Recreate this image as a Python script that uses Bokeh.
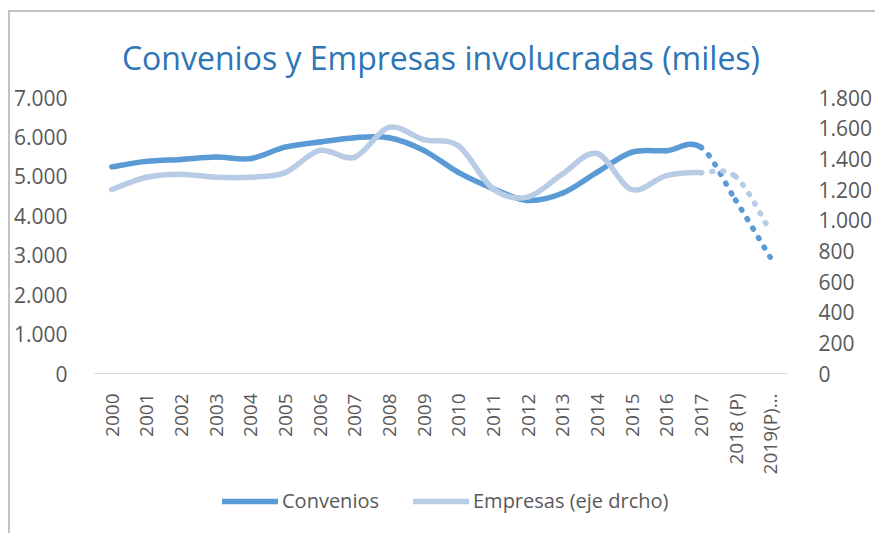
import math
from bokeh.plotting import figure
from bokeh.layouts import column
from bokeh.models import (Range1d, LinearAxis, FixedTicker, Legend, LegendItem,
                          ColumnDataSource)
from bokeh.embed import file_html
from bokeh.resources import INLINE

# ---------------- data ----------------
years = ["2000", "2001", "2002", "2003", "2004", "2005", "2006", "2007", "2008",
         "2009", "2010", "2011", "2012", "2013", "2014", "2015", "2016", "2017",
         "2018 (P)", "2019(P)…"]
convenios = [5240, 5380, 5430, 5490, 5450, 5740, 5870, 5980, 5980, 5660,
             5100, 4690, 4390, 4570, 5100, 5610, 5650, 5740, 4400, 2950]
empresas = [1200, 1280, 1300, 1280, 1280, 1310, 1455, 1410, 1605, 1525,
            1485, 1205, 1150, 1300, 1435, 1200, 1290, 1310, 1285, 930]
n_solid = 18  # points 2000..2017 solid, then projected (dotted)

left_ticks = [0, 1000, 2000, 3000, 4000, 5000, 6000, 7000]
left_labels = ["0", "1.000", "2.000", "3.000", "4.000", "5.000", "6.000", "7.000"]
right_ticks = [0, 200, 400, 600, 800, 1000, 1200, 1400, 1600, 1800]
right_labels = ["0", "200", "400", "600", "800", "1.000", "1.200", "1.400", "1.600", "1.800"]
series_names = ["Convenios", "Empresas (eje drcho)"]

title = "Convenios y Empresas involucradas (miles)"
FONT = "Open Sans"
GREY = "#595959"
C_CONV = "#5B9BD5"
C_EMP = "#B8CCE6"


def bezier_source(vals, seg_from, seg_to):
    """Smooth (Catmull-Rom) Bezier segments through the data points."""
    nv = len(vals)
    d = dict(x0=[], y0=[], x1=[], y1=[], cx0=[], cy0=[], cx1=[], cy1=[])
    for i in range(seg_from, seg_to):
        ip = max(i - 1, 0)
        inx = min(i + 2, nv - 1)
        d["x0"].append(i); d["y0"].append(vals[i])
        d["x1"].append(i + 1); d["y1"].append(vals[i + 1])
        d["cx0"].append(i + (i + 1 - ip) / 6.0)
        d["cy0"].append(vals[i] + (vals[i + 1] - vals[ip]) / 6.0)
        d["cx1"].append(i + 1 - (inx - i) / 6.0)
        d["cy1"].append(vals[i + 1] - (vals[inx] - vals[i]) / 6.0)
    return ColumnDataSource(d)


p = figure(width=865, height=466, output_backend="svg", toolbar_location=None,
           x_range=Range1d(-0.5, len(years) - 0.5), y_range=Range1d(0, 7000),
           min_border_left=84, min_border_right=78, min_border_top=85,
           min_border_bottom=105)
p.extra_y_ranges = {"emp": Range1d(0, 1800)}
p.outline_line_color = None
p.grid.visible = False
p.background_fill_color = "white"
p.border_fill_color = "white"

p.title.text = title
p.title.align = "center"
p.title.text_font = FONT
p.title.text_font_size = "32px"
p.title.text_font_style = "normal"
p.title.text_color = "#2E75B6"
p.title.standoff = 38

# x axis
xa = p.xaxis[0]
xa.ticker = FixedTicker(ticks=list(range(len(years))))
xa.major_label_overrides = {i: y for i, y in enumerate(years)}
xa.major_label_orientation = math.pi / 2
xa.major_label_standoff = 14
xa.major_label_text_font = FONT
xa.major_label_text_font_size = "19px"
xa.major_label_text_color = GREY
xa.axis_line_color = "#D9D9D9"
xa.axis_line_width = 1.2
xa.major_tick_line_color = None
xa.minor_tick_line_color = None

# left axis
ya = p.yaxis[0]
ya.ticker = FixedTicker(ticks=left_ticks)
ya.major_label_overrides = {t: l for t, l in zip(left_ticks, left_labels)}

# right axis
yr = LinearAxis(y_range_name="emp", ticker=FixedTicker(ticks=right_ticks))
yr.major_label_overrides = {t: l for t, l in zip(right_ticks, right_labels)}
p.add_layout(yr, "right")

for ax, st in ((ya, 21), (yr, 25)):
    ax.axis_line_color = None
    ax.major_tick_line_color = None
    ax.minor_tick_line_color = None
    ax.major_label_text_font = FONT
    ax.major_label_text_font_size = "21px"
    ax.major_label_text_color = GREY
    ax.major_label_standoff = st

LW = 5.5
nseg = len(years) - 1
# Convenios
p.bezier(x0="x0", y0="y0", x1="x1", y1="y1", cx0="cx0", cy0="cy0", cx1="cx1", cy1="cy1",
         source=bezier_source(convenios, 0, n_solid - 1),
         line_color=C_CONV, line_width=LW, line_cap="round")
p.bezier(x0="x0", y0="y0", x1="x1", y1="y1", cx0="cx0", cy0="cy0", cx1="cx1", cy1="cy1",
         source=bezier_source(convenios, n_solid - 1, nseg),
         line_color=C_CONV, line_width=LW, line_cap="round", line_dash="1 10")
# Empresas (right axis)
p.bezier(x0="x0", y0="y0", x1="x1", y1="y1", cx0="cx0", cy0="cy0", cx1="cx1", cy1="cy1",
         source=bezier_source(empresas, 0, n_solid - 1), y_range_name="emp",
         line_color=C_EMP, line_width=LW, line_cap="round")
p.bezier(x0="x0", y0="y0", x1="x1", y1="y1", cx0="cx0", cy0="cy0", cx1="cx1", cy1="cy1",
         source=bezier_source(empresas, n_solid - 1, nseg), y_range_name="emp",
         line_color=C_EMP, line_width=LW, line_cap="round", line_dash="1 10")

# ---------------- legend strip below the chart ----------------
pl = figure(width=865, height=55, output_backend="svg", toolbar_location=None,
            x_axis_location=None, y_axis_location=None,
            x_range=Range1d(0, 1), y_range=Range1d(0, 1),
            min_border=0)
pl.outline_line_color = None
pl.grid.visible = False
lc = pl.line(x=[5, 6], y=[5, 5], line_color=C_CONV, line_width=LW, line_cap="round")
le = pl.line(x=[5, 6], y=[5, 5], line_color=C_EMP, line_width=LW, line_cap="round")
legend = Legend(items=[LegendItem(label=series_names[0], renderers=[lc]),
                       LegendItem(label=series_names[1], renderers=[le])],
                orientation="horizontal", location=(128, 19),
                label_text_font=FONT, label_text_font_size="20px",
                label_text_color=GREY, glyph_width=56, glyph_height=20,
                label_height=20, label_standoff=4, spacing=34, padding=0, margin=0,
                border_line_color=None, background_fill_color=None)
pl.add_layout(legend, "center")

layout = column(p, pl, spacing=0)
layout.styles = {"margin-left": "8px", "margin-top": "10px",
                 "border-left": "2px solid #C4C4C4", "border-top": "2px solid #C4C4C4"}
open("out.html", "w").write(file_html(layout, INLINE))
